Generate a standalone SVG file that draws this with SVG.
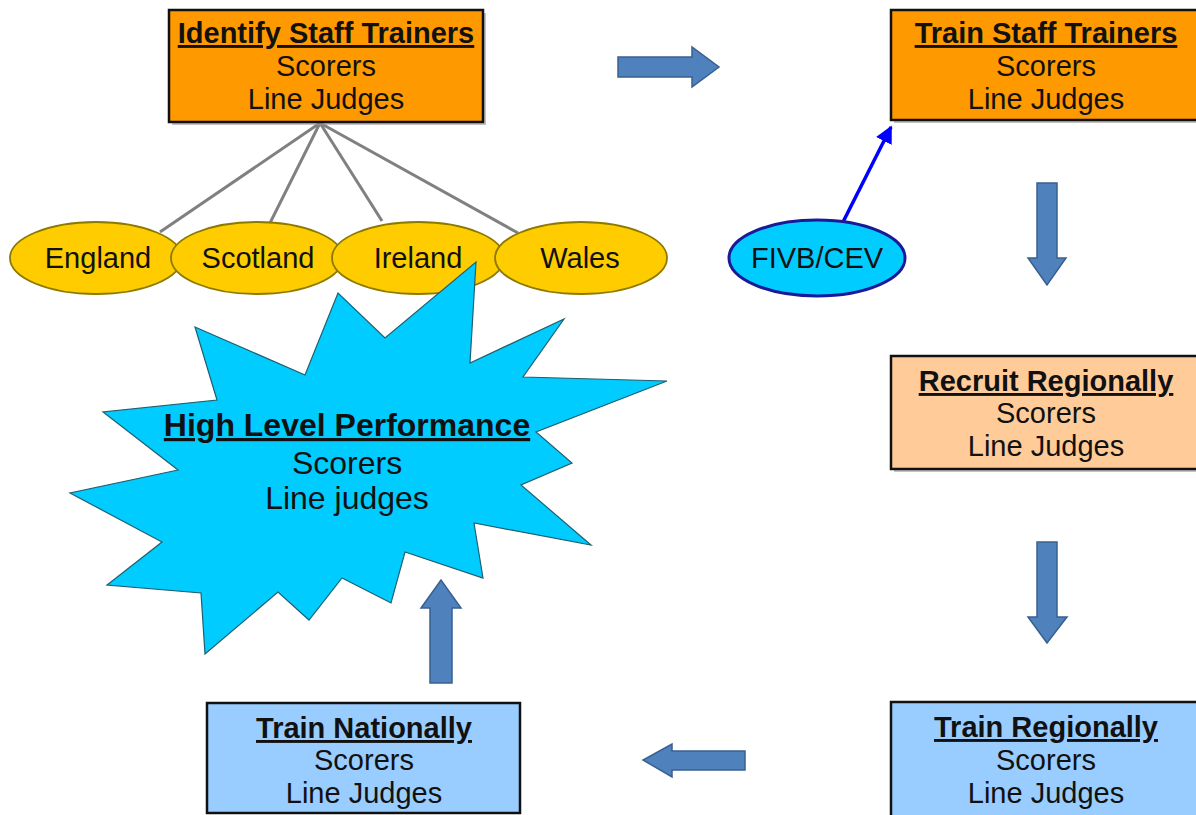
<svg xmlns="http://www.w3.org/2000/svg" width="1196" height="815" viewBox="0 0 1196 815">
<defs>
<style>
text{font-family:"Liberation Sans",Arial,sans-serif;fill:#111;text-anchor:middle}
.t{font-weight:bold;font-size:29px;text-decoration:underline}
.s{font-size:29px}
.st{font-weight:bold;font-size:32px;text-decoration:underline}
.ss{font-size:32px}
.e{font-size:29px}
.box{stroke:#111;stroke-width:2.5}
.shadow{fill:#999;opacity:0.6}
.ell{fill:#FFCC00;stroke:#8C7A00;stroke-width:1.8}
.blk{fill:#4F81BD;stroke:#37608F;stroke-width:1.5}
.gl{stroke:#808080;stroke-width:3;fill:none}
</style>
<marker id="bh" viewBox="0 0 10 10" refX="9" refY="5" markerWidth="5" markerHeight="5" orient="auto" markerUnits="strokeWidth">
<path d="M0,0 L10,5 L0,10 z" fill="#0000FF"/>
</marker>
</defs>
<rect width="1196" height="815" fill="#fff"/>

<g id="connectors">
<line class="gl" x1="320" y1="123" x2="160" y2="232"/>
<line class="gl" x1="320" y1="123" x2="270" y2="223"/>
<line class="gl" x1="320" y1="123" x2="382" y2="221"/>
<line class="gl" x1="320" y1="123" x2="518" y2="233"/>
<polygon class="blk" points="618,57 692,57 692,47 719,67 692,87 692,77 618,77"/>
<polygon class="blk" points="1037,183 1057,183 1057,258 1066,258 1047,285 1028,258 1037,258"/>
<polygon class="blk" points="1037,542 1057,542 1057,617 1067,617 1047,643 1028,617 1037,617"/>
<polygon class="blk" points="745,751 745,770 672,770 672,777 643,760 672,744 672,751"/>
<polygon class="blk" points="430,683 452,683 452,608 461,608 441,580 421,608 430,608"/>
<line x1="843" y1="222" x2="891" y2="127" stroke="#0000FF" stroke-width="3.5" marker-end="url(#bh)"/>
</g>

<g id="identify">
<rect class="shadow" x="172" y="13" width="314" height="112"/>
<rect class="box" x="169" y="10" width="314" height="112" fill="#FF9900"/>
<text class="t" x="326" y="43">Identify Staff Trainers</text>
<text class="s" x="326" y="76">Scorers</text>
<text class="s" x="326" y="109">Line Judges</text>
</g>

<g id="train-staff">
<rect class="shadow" x="894" y="13" width="310" height="110"/>
<rect class="box" x="891" y="10" width="310" height="110" fill="#FF9900"/>
<text class="t" x="1046" y="43">Train Staff Trainers</text>
<text class="s" x="1046" y="76">Scorers</text>
<text class="s" x="1046" y="109">Line Judges</text>
</g>

<g id="england"><ellipse class="ell" cx="96" cy="258" rx="86" ry="36"/><text class="e" x="98" y="268">England</text></g>
<g id="scotland"><ellipse class="ell" cx="257" cy="258" rx="86" ry="36"/><text class="e" x="258" y="268">Scotland</text></g>
<g id="ireland"><ellipse class="ell" cx="418" cy="258" rx="86" ry="36"/><text class="e" x="418" y="268">Ireland</text></g>
<g id="wales"><ellipse class="ell" cx="581" cy="258" rx="86" ry="36"/><text class="e" x="580" y="268">Wales</text></g>

<g id="fivb">
<ellipse cx="817" cy="258" rx="88" ry="38" fill="#00CCFF" stroke="#1A1A99" stroke-width="3"/>
<text class="e" x="817" y="268">FIVB/CEV</text>
</g>

<g id="high-level">
<polygon points="476,262 470,363 564,319 523,377 667,381 536,432 572,463 521,485 591,545 474,523 483,578 405,552 391,603 342,578 309,620 278,592 205,654 201,593 107,585 162,542 70,493 178,470 103,412 217,400 195,327 305,375 338,293 385,338" fill="#00CCFF" stroke="#1F5F6F" stroke-width="1.2"/>
<text class="st" x="347" y="436">High Level  Performance</text>
<text class="ss" x="347" y="474">Scorers</text>
<text class="ss" x="347" y="509">Line judges</text>
</g>

<g id="recruit">
<rect class="shadow" x="894" y="359" width="310" height="113"/>
<rect class="box" x="891" y="356" width="310" height="113" fill="#FFCC99"/>
<text class="t" x="1046" y="391">Recruit Regionally</text>
<text class="s" x="1046" y="423">Scorers</text>
<text class="s" x="1046" y="456">Line Judges</text>
</g>

<g id="train-regionally">
<rect class="box" x="891" y="702" width="310" height="120" fill="#99CCFF"/>
<text class="t" x="1046" y="737">Train Regionally</text>
<text class="s" x="1046" y="770">Scorers</text>
<text class="s" x="1046" y="803">Line Judges</text>
</g>

<g id="train-nationally">
<rect class="box" x="207" y="703" width="313" height="110" fill="#99CCFF"/>
<text class="t" x="364" y="738">Train Nationally</text>
<text class="s" x="364" y="770">Scorers</text>
<text class="s" x="364" y="803">Line Judges</text>
</g>
</svg>
